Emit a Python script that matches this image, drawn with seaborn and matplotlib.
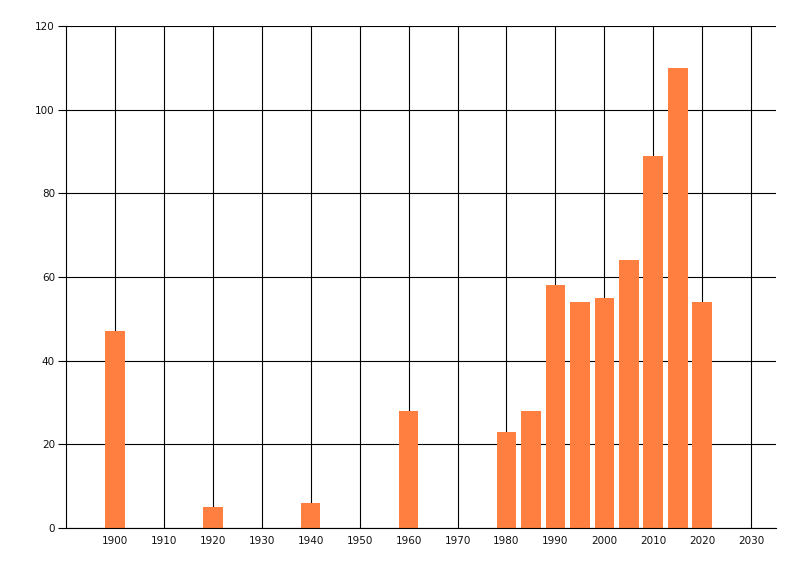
import matplotlib
matplotlib.use("Agg")
import matplotlib.pyplot as plt
import seaborn as sns
import pandas as pd

# values
years = [1900, 1920, 1940, 1960, 1980, 1985, 1990, 1995, 2000, 2005, 2010, 2015, 2020]
counts = [47, 5, 6, 28, 23, 28, 58, 54, 55, 64, 89, 110, 54]
x_ticks = list(range(1900, 2031, 10))
y_ticks = list(range(0, 121, 20))

df = pd.DataFrame({"year": years, "count": counts})

sns.set_style("white")
plt.rcParams["font.family"] = ["DejaVu Sans"]

fig = plt.figure(figsize=(8, 5.76), dpi=100)
ax = fig.add_axes([0.0825, 0.0833, 0.887, 0.8715])

sns.barplot(data=df, x="year", y="count", native_scale=True, color="#FF7F40",
            saturation=1, width=0.8, linewidth=0, ax=ax, zorder=3)

ax.set_xlim(1890, 2035)
ax.set_ylim(0, 120)
ax.set_xticks(x_ticks)
ax.set_yticks(y_ticks)
ax.set_xticklabels([str(t) for t in x_ticks])
ax.grid(True, color="black", linewidth=0.8, zorder=1)
ax.set_axisbelow(True)

for side in ["top", "right"]:
    ax.spines[side].set_visible(False)
for side in ["left", "bottom"]:
    ax.spines[side].set_color("black")
    ax.spines[side].set_linewidth(0.8)
    ax.spines[side].set_zorder(4)

ax.tick_params(axis="y", length=6, width=0.8, color="black", pad=2, labelsize=7.5, labelcolor="#111111", left=True)
ax.tick_params(axis="x", length=0, pad=6, labelsize=7.5, labelcolor="#111111")
ax.set_xlabel("")
ax.set_ylabel("")

fig.savefig("out.png", dpi=100)
